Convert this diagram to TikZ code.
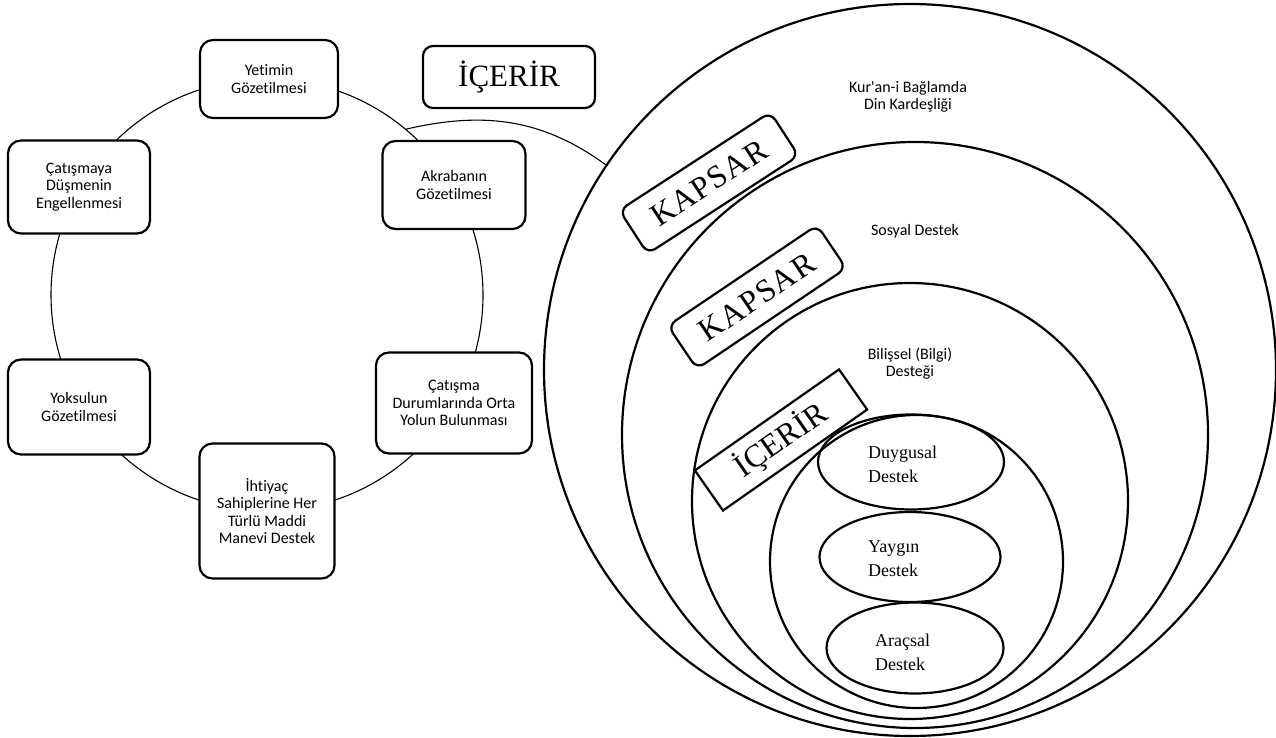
\documentclass[tikz,border=0pt]{standalone}
\usepackage{fontspec}
\setmainfont{Liberation Serif}
\newfontfamily\carl[Ligatures=NoCommon]{Carlito}
\usetikzlibrary{shapes.geometric}
\begin{document}
\begin{tikzpicture}[x=1pt,y=1pt,
  ringbox/.style={draw, line width=2.2pt, rounded corners=13pt, fill=white, align=center,
    font=\carl\fontsize{16}{17.5}\selectfont, inner sep=0pt},
  bigc/.style={draw, circle, line width=2.2pt, inner sep=0pt},
  lbl/.style={align=center, font=\carl\fontsize{16}{17}\selectfont, inner sep=0pt},
  kbox/.style={draw, line width=2.2pt, rounded corners=9pt, fill=white, inner sep=0pt,
    minimum width=180pt, minimum height=52pt, font=\fontsize{32}{36}\selectfont\addfontfeatures{LetterSpace=4}},
  ell/.style={draw, ellipse, line width=2.2pt, inner sep=0pt},
  etxt/.style={align=left, font=\fontsize{18}{24}\selectfont, inner sep=0pt},
  thinl/.style={line width=1.1pt}
]
\useasboundingbox (0,0) rectangle (1276,-738);

% left ring
\node[draw, circle, thinl, minimum size=432pt, inner sep=0pt] (ring) at (267,-295) {};

\node[ringbox, minimum width=138pt, minimum height=78pt] (yetim) at (269,-79) {Yetimin\\Gözetilmesi};
\node[ringbox, minimum width=143pt, minimum height=88pt] (akraba) at (454,-185) {Akrabanın\\Gözetilmesi};
\node[ringbox, minimum width=142pt, minimum height=93pt] (catis) at (79,-187) {Çatışmaya\\Düşmenin\\Engellenmesi};
\node[ringbox, minimum width=142pt, minimum height=95pt] (yoksul) at (79,-407) {Yoksulun\\Gözetilmesi};
\node[ringbox, minimum width=156pt, minimum height=101pt] (orta) at (454,-403) {Çatışma\\Durumlarında Orta\\Yolun Bulunması};
\node[ringbox, minimum width=135pt, minimum height=135pt] (ihtiyac) at (267,-511) {İhtiyaç\\Sahiplerine Her\\Türlü Maddi\\Manevi Destek};

% top İÇERİR box
\node[draw, line width=2.2pt, rounded corners=10pt, minimum width=172pt, minimum height=62pt, inner sep=0pt,
  font=\fontsize{31}{36}\selectfont] (icerir1) at (509,-77) {İÇERİR};

% nested circles
\node[bigc, minimum size=732pt] (outer) at (910,-370) {};
\node[bigc, minimum size=586pt] (sosyal) at (915,-435) {};
\node[bigc, minimum size=436pt] (bilis) at (910,-501) {};
\node[bigc, minimum size=293pt] (inner) at (916.5,-561.5) {};

% connector
\draw[thinl] (ring.50) to[out=13,in=144] (outer.146.5);

% circle labels
\node[lbl] (kuranl) at (908,-97) {Kur\textquotesingle an-i Bağlamda\\Din Kardeşliği};
\node[lbl] (sosyall) at (915,-231) {Sosyal Destek};
\node[lbl] (bilisl) at (910,-364) {Bilişsel (Bilgi)\\Desteği};

% rotated boxes
\node[kbox, rotate=33] (kapsar1) at (709,-183) {KAPSAR};
\node[kbox, rotate=34] (kapsar2) at (757,-297) {KAPSAR};
\node[draw, line width=2.2pt, fill=white, inner sep=0pt, minimum width=176pt, minimum height=49pt,
  rotate=35, font=\fontsize{32}{36}\selectfont] (icerir2) at (781,-440) {İÇERİR};

% ellipses
\node[ell, minimum width=186pt, minimum height=95pt] (duy) at (911,-462) {};
\node[ell, minimum width=181pt, minimum height=90pt] (yay) at (910,-557) {};
\node[ell, minimum width=177pt, minimum height=91pt] (arac) at (915,-648) {};
\node[etxt, anchor=north west] (duyt) at (868,-446) {Duygusal\\Destek};
\node[etxt, anchor=north west] (yayt) at (868,-541) {Yaygın\\Destek};
\node[etxt, anchor=north west] (aract) at (875,-634) {Araçsal\\Destek};
\end{tikzpicture}
\end{document}
